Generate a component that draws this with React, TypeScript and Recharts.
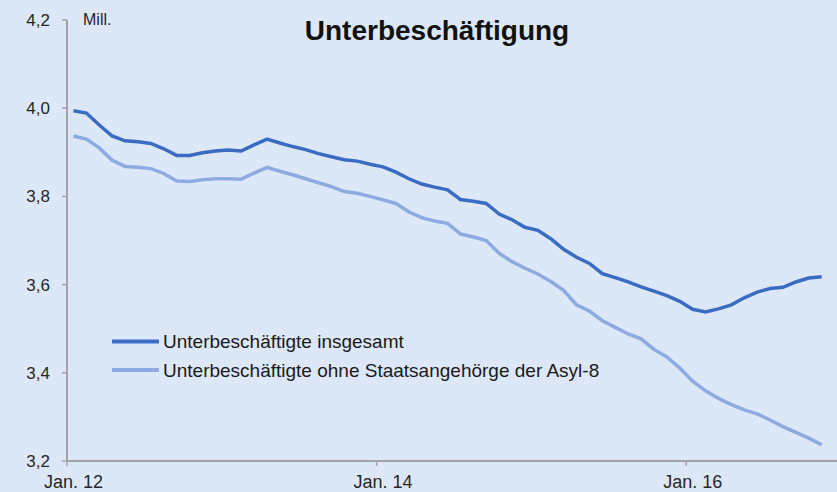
import { LineChart, Line, XAxis, YAxis } from "recharts";

// Unterbeschäftigung in Mio., monatlich Jan. 2012 – Nov. 2016
const insgesamt = [
  3.994, 3.989, 3.962, 3.937, 3.926, 3.924, 3.92, 3.908, 3.893, 3.893, 3.899, 3.903,
  3.905, 3.903, 3.917, 3.93, 3.921, 3.913, 3.906, 3.897, 3.89, 3.883, 3.88, 3.873,
  3.867, 3.855, 3.84, 3.828, 3.821, 3.815, 3.793, 3.789, 3.784, 3.76, 3.747, 3.73,
  3.723, 3.704, 3.68, 3.662, 3.648, 3.625, 3.616, 3.606, 3.595, 3.585, 3.575, 3.562,
  3.544, 3.538, 3.545, 3.554, 3.57, 3.583, 3.591, 3.594, 3.606, 3.615, 3.618,
];

const ohneAsyl8 = [
  3.937, 3.93, 3.91, 3.882, 3.868, 3.866, 3.863, 3.852, 3.835, 3.834, 3.838, 3.84,
  3.84, 3.839, 3.853, 3.866, 3.857, 3.849, 3.84, 3.831, 3.822, 3.811, 3.807, 3.8,
  3.792, 3.784, 3.765, 3.752, 3.744, 3.739, 3.715, 3.708, 3.7, 3.671, 3.652, 3.637,
  3.624, 3.607, 3.587, 3.554, 3.54, 3.518, 3.503, 3.488, 3.477, 3.453, 3.436, 3.411,
  3.381, 3.359, 3.342, 3.328, 3.316, 3.307, 3.293, 3.278, 3.265, 3.252, 3.237,
];

const xTickMonths = [0, 24, 48];
const xTickLabels = ["Jan. 12", "Jan. 14", "Jan. 16"];
const yTicks = [3.2, 3.4, 3.6, 3.8, 4.0, 4.2];

const seriesNames = [
  "Unterbeschäftigte insgesamt",
  "Unterbeschäftigte ohne Staatsangehörge der Asyl-8",
];

const colors = { dark: "#3b6cc3", light: "#8dabe0", axis: "#a3a3a3", bg: "#dce8f7" };
const font = "'Liberation Sans', Arial, sans-serif";

// points sit in the middle of their month
const data = insgesamt.map((v, i) => ({
  t: i + 0.5,
  insgesamt: v,
  ohneAsyl8: ohneAsyl8[i],
}));

const monthWidth = 774 / 60;

const XTick = (props: any) => {
  const { x, y, payload } = props;
  const idx = xTickMonths.indexOf(payload.value);
  return (
    <text
      x={x + monthWidth / 2}
      y={y}
      dy={20}
      textAnchor="middle"
      fill="#262626"
      fontSize={18}
      fontFamily={font}
    >
      {xTickLabels[idx]}
    </text>
  );
};

export default function App() {
  return (
    <div
      style={{
        position: "absolute",
        left: 0,
        top: 0,
        width: 837,
        height: 492,
        overflow: "hidden",
        background: colors.bg,
      }}
    >
      <LineChart
        width={841}
        height={492}
        data={data}
        margin={{ top: 20, right: 0, bottom: 0, left: 0 }}
      >
        <XAxis
          type="number"
          dataKey="t"
          domain={[0, 60]}
          ticks={xTickMonths}
          height={31}
          tickSize={5}
          tick={<XTick />}
          axisLine={{ stroke: colors.axis, strokeWidth: 2 }}
          tickLine={{ stroke: colors.axis, strokeWidth: 1.5 }}
        />
        <YAxis
          type="number"
          domain={[3.2, 4.2]}
          ticks={yTicks}
          width={67}
          tickSize={5}
          tickMargin={12}
          tickFormatter={(v: number) => v.toFixed(1).replace(".", ",")}
          tick={{ fill: "#262626", fontSize: 17, fontFamily: font }}
          axisLine={{ stroke: colors.axis, strokeWidth: 2 }}
          tickLine={{ stroke: colors.axis, strokeWidth: 1.5 }}
        />
        <Line
          type="linear"
          dataKey="ohneAsyl8"
          stroke={colors.light}
          strokeWidth={3.5}
          dot={false}
          isAnimationActive={false}
        />
        <Line
          type="linear"
          dataKey="insgesamt"
          stroke={colors.dark}
          strokeWidth={3.5}
          dot={false}
          isAnimationActive={false}
        />
      </LineChart>

      {/* title, unit and legend drawn on top */}
      <svg
        width={837}
        height={492}
        style={{ position: "absolute", left: 0, top: 0, pointerEvents: "none" }}
      >
        <text
          x={437}
          y={40}
          textAnchor="middle"
          fontSize={28}
          fontWeight="bold"
          fontFamily={font}
          fill="#111"
        >
          Unterbeschäftigung
        </text>
        <text x={83} y={25} fontSize={16} fontFamily={font} fill="#262626">
          Mill.
        </text>
        {[colors.dark, colors.light].map((c, i) => (
          <g key={c}>
            <line
              x1={112}
              x2={159}
              y1={341.5 + i * 28.5}
              y2={341.5 + i * 28.5}
              stroke={c}
              strokeWidth={4}
            />
            <text
              x={163}
              y={348 + i * 28.5}
              fontSize={19}
              fontFamily={font}
              fill="#1a1a1a"
            >
              {seriesNames[i]}
            </text>
          </g>
        ))}
      </svg>
    </div>
  );
}
